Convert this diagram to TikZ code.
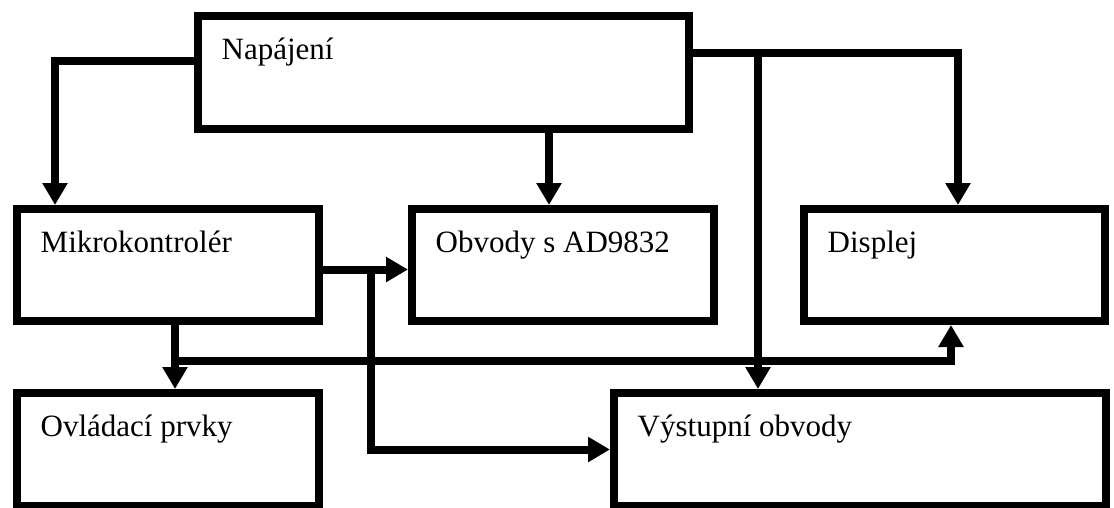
\documentclass[tikz,border=0pt]{standalone}
\usepackage{fontspec}
\setmainfont{Liberation Serif}
\usetikzlibrary{arrows.meta,positioning}
\tikzset{
  blocktext/.style={anchor=base west, inner sep=0pt, xshift=27.5pt, yshift=-47.5pt,
                    font=\fontsize{31}{36}\selectfont},
  block/.style={rectangle, draw=black, line width=8pt, inner sep=0pt,
                minimum width=302pt, minimum height=112pt,
                label={[blocktext]north west:#1}},
  arrow/.style={line width=8pt, -{Triangle[length=22pt, width=24pt]}},
}
\begin{document}
\begin{tikzpicture}[x=1pt, y=-1pt]
\useasboundingbox (0,0) rectangle (1114,507);
% bloky
\node[block=Napájení, minimum width=491pt, minimum height=113pt] (nap) at (443.5,72) {};
\node[block=Mikrokontrolér] (mik) at (168,265) {};
\node[block=Obvody s AD9832] (obv) at (563,265) {};
\node[block=Displej, minimum width=301pt] (dis) at (954.5,265) {};
\node[block=Ovládací prvky, minimum height=113pt] (ovl) at (168,449.5) {};
\node[block=Výstupní obvody, minimum width=492pt, minimum height=113pt] (vys) at (860,449.5) {};
% pomocne body
\coordinate (napobv) at ([xshift=-14pt]obv.north);
\coordinate (napvys) at ([xshift=-102pt]vys.north);
\coordinate (split) at ([xshift=48pt, yshift=-4.5pt]mik.east);
\coordinate (bus) at ([xshift=-3.5pt, yshift=-36pt]dis.south);
% napajeni
\draw[arrow] ([yshift=11pt]nap.west) -| ([xshift=-113pt]mik.north);
\draw[arrow] (nap.south -| napobv) -- (napobv);
\draw[arrow] ([yshift=19pt]nap.east) -| ([xshift=3.5pt]dis.north);
\draw[arrow] ([yshift=19pt]nap.east) -| (napvys);
% mikrokontroler
\draw[arrow] ([yshift=-4.5pt]mik.east) -- ([yshift=-4.5pt]obv.west);
\draw[arrow] (split) |- (vys.west);
\draw[arrow] ([xshift=7pt]mik.south) -- ([xshift=7pt]ovl.north);
\draw[arrow] ([xshift=7pt]mik.south) |- (bus) -- ([xshift=-3.5pt]dis.south);
\end{tikzpicture}
\end{document}
